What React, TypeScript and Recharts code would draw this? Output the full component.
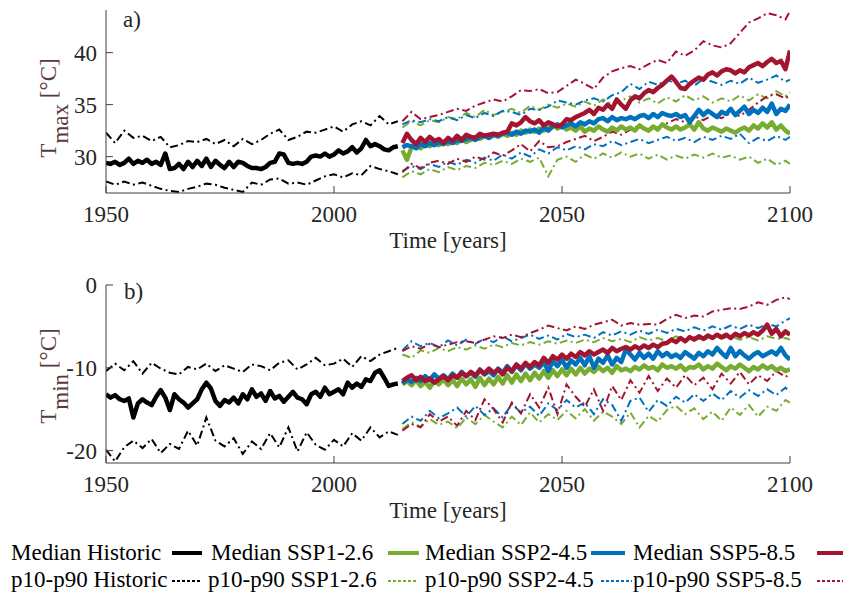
import React from 'react';
import { LineChart, Line, XAxis, YAxis } from 'recharts';

// ---------- x values ----------
const range = (start: number, end: number, step: number): number[] => {
  const out: number[] = [];
  for (let v = start; v <= end; v += step) out.push(v);
  return out;
};
const YEARS_HIST = range(1950, 2014, 1);
const YEARS_HIST_PCT = range(1950, 2014, 2);
const YEARS_SSP = range(2015, 2100, 1);
const YEARS_SSP_PCT = [...range(2015, 2099, 2), 2100];

const X_TICKS = [1950, 2000, 2050, 2100];
const TMAX_TICKS = [30, 35, 40];
const TMIN_TICKS = [-20, -10, 0];
const TMAX_DOMAIN: [number, number] = [26.5, 44.1];
const TMIN_DOMAIN: [number, number] = [-21.5, 0];

// ---------- panel a) Tmax ----------
const tmaxHistMedian = [
  29.4, 29.3, 29.5, 29.2, 29.4, 29.8, 29.3, 29.6, 29.4, 29.7,
  29.3, 29.5, 29.2, 30.3, 28.8, 28.9, 29.3, 28.8, 29.5, 29.0,
  29.6, 29.1, 29.8, 29.0, 29.6, 29.2, 28.9, 29.5, 29.0, 29.5,
  29.4, 29.1, 28.9, 28.9, 28.8, 29.0, 29.4, 29.5, 30.3, 30.2,
  29.4, 29.3, 29.4, 29.3, 29.5, 30.0, 30.1, 30.0, 30.3, 30.0,
  30.2, 30.6, 30.3, 30.5, 30.9, 30.4, 30.8, 31.6, 31.0, 31.2,
  31.0, 30.7, 30.6, 30.9, 31.0,
];
const tmaxHistP90 = [
  32.3, 31.3, 32.5, 31.8, 32.0, 31.5, 31.9, 30.9, 31.1, 31.5,
  31.4, 31.7, 31.2, 31.6, 31.0, 31.7, 31.2, 31.6, 32.2, 32.6,
  31.6, 31.9, 32.4, 32.3, 32.6, 32.9, 32.4, 33.1, 33.4, 33.0,
  33.9, 33.1, 33.4,
];
const tmaxHistP10 = [
  27.6, 27.3, 27.6, 27.3, 27.5, 27.2, 26.9, 26.7, 26.6, 26.9,
  27.1, 27.4, 27.3, 27.0, 26.8, 26.6, 27.5, 27.3, 27.8, 27.9,
  27.4, 27.5, 27.3, 27.7, 28.1, 28.3, 28.0, 28.4, 28.2, 29.1,
  28.8, 28.6, 28.3,
];
const tmaxSsp126Median = [
  30.6, 29.7, 30.9, 31.1, 30.8, 31.2, 31.0, 31.3, 31.1, 31.4,
  31.2, 31.5, 31.3, 31.7, 31.4, 31.6, 31.9, 31.7, 32.0, 31.8,
  32.1, 31.9, 32.2, 32.0, 32.3, 32.1, 32.5, 32.3, 32.6, 32.4,
  32.7, 32.5, 32.8, 33.1, 32.7, 33.0, 32.6, 32.8, 32.5, 32.9,
  32.4, 32.7, 32.5, 32.9, 32.6, 32.4, 32.8, 32.5, 32.9, 32.6,
  32.8, 32.5, 33.0, 32.7, 32.5, 32.9, 32.6, 33.1, 32.8, 32.6,
  32.9, 32.6, 32.8, 33.1, 32.6, 33.3, 32.7, 32.5, 32.8, 32.6,
  32.4, 32.7, 32.5, 32.3, 32.6, 32.8, 32.5, 33.0, 32.7, 33.2,
  32.8, 33.3, 32.6, 33.0, 32.5, 32.2,
];
const tmaxSsp245Median = [
  30.9, 31.1, 31.0, 30.8, 31.2, 31.0, 31.3, 31.1, 31.4, 31.2,
  31.5, 31.3, 31.6, 31.5, 31.7, 31.8, 31.6, 31.9, 32.0, 31.8,
  32.1, 32.0, 32.2, 32.3, 32.1, 32.4, 32.2, 32.5, 32.4, 32.6,
  32.3, 32.8, 32.5, 32.9, 33.1, 32.8, 33.0, 33.2, 32.9, 33.3,
  33.1, 33.4, 33.2, 33.6, 33.7, 33.4, 33.8, 33.5, 33.7, 33.6,
  33.8, 33.6, 33.9, 34.0, 33.7, 34.1, 33.8, 34.2, 34.0, 33.9,
  34.1, 33.8, 34.0, 33.3, 33.9, 34.5, 34.0, 34.4, 34.1, 33.8,
  34.3, 34.1, 34.6, 34.0, 34.4, 34.8, 34.1, 34.5, 34.2, 34.7,
  34.3, 35.1, 34.1, 34.6, 34.4, 35.0,
];
const tmaxSsp585Median = [
  31.3, 32.2, 31.6, 31.2, 31.8, 31.4, 31.9, 31.5, 31.7, 31.3,
  31.8, 31.5, 32.0, 31.6, 32.1, 31.9, 31.8, 32.2, 32.0, 32.1,
  32.2, 32.1, 32.3, 32.4, 33.2, 33.0, 33.3, 33.8, 33.4, 33.2,
  33.5, 33.0, 33.3, 33.1, 32.9, 33.1, 33.6, 33.5, 33.8, 34.0,
  34.2, 34.5, 34.1, 34.7, 34.5, 35.0, 34.6, 35.5, 35.0, 34.6,
  35.4, 35.8, 35.6, 36.1, 36.4, 36.2, 36.6, 36.9, 37.3, 37.7,
  37.2, 36.6, 36.5, 37.0, 37.3, 37.6, 37.4, 37.9, 38.1, 37.8,
  38.2, 38.4, 38.3, 38.0, 38.3, 38.1, 38.6, 38.8, 39.0, 38.7,
  39.1, 39.4, 39.0, 39.2, 38.4, 40.2,
];
const tmaxSsp126P90 = [
  32.8, 33.4, 33.0, 33.5, 33.3, 33.8, 33.6, 34.2, 33.8, 34.5,
  34.0, 34.3, 34.6, 34.2, 34.9, 34.5, 35.0, 34.7, 35.1, 34.8,
  35.3, 34.9, 35.5, 35.0, 35.4, 35.8, 35.2, 35.6, 35.1, 35.7,
  35.3, 35.9, 35.4, 35.8, 35.2, 35.6, 35.3, 35.9, 35.4, 36.0,
  35.6, 36.3, 35.8, 36.2,
];
const tmaxSsp245P90 = [
  33.1, 33.5, 33.3, 33.6, 33.4, 33.8, 33.5, 34.0, 33.7, 34.2,
  33.9, 34.4, 34.3, 34.0, 34.6, 34.5, 34.8, 35.4, 35.2, 35.0,
  35.4, 35.6, 35.3, 35.9, 36.2, 37.0, 36.5, 37.2, 36.9, 37.4,
  37.0, 37.3, 36.8, 37.5, 37.2, 36.9, 37.3, 37.0, 37.6, 37.1,
  37.4, 37.8, 37.2, 37.4,
];
const tmaxSsp585P90 = [
  33.4, 34.3, 33.6, 33.8, 34.0, 34.3, 34.6, 34.4, 34.9, 35.2,
  35.5, 35.3, 35.8, 36.4, 36.3, 36.5, 36.1, 36.2, 36.8, 37.4,
  37.0, 36.5, 37.6, 38.2, 38.5, 38.7, 38.4, 38.9, 39.3, 39.0,
  40.1, 39.7, 40.2, 41.1, 40.7, 40.5, 40.9, 41.9, 42.9, 43.3,
  43.8, 43.6, 43.2, 44.0,
];
const tmaxSsp126P10 = [
  28.0, 28.6, 28.3, 28.8, 28.5, 29.0, 28.7, 29.1, 28.9, 29.4,
  29.2, 29.6, 29.3, 29.8, 29.5, 29.9, 28.1, 29.7, 30.0, 29.5,
  30.2, 29.8, 30.3, 29.9, 30.4, 30.0, 30.3, 29.8, 30.2, 29.7,
  30.1, 29.8, 30.2, 29.9, 30.3, 29.9, 30.1, 29.7, 30.0, 29.4,
  29.8, 29.2, 29.6, 29.3,
];
const tmaxSsp245P10 = [
  28.6, 29.1, 28.8, 29.3, 29.0, 29.5, 29.2, 29.7, 29.4, 29.9,
  29.6, 30.2, 29.8, 30.4, 30.0, 30.7, 30.3, 30.9, 30.6, 31.0,
  30.7, 31.2, 31.0, 31.5, 31.1, 31.4, 31.7, 31.3, 31.6, 31.9,
  31.5, 31.8, 31.4, 31.9, 31.6, 32.0, 31.7, 32.2, 31.3, 31.8,
  31.5, 32.0, 31.6, 31.9,
];
const tmaxSsp585P10 = [
  28.5, 29.3, 28.9, 29.4, 29.6, 29.3, 29.8, 29.5, 30.0, 29.7,
  30.4, 30.1, 30.6, 31.2, 30.5, 31.5, 30.9, 31.0, 31.4, 31.7,
  32.0, 31.5, 31.9, 32.4, 32.1, 32.6, 33.0, 32.5, 32.8, 33.2,
  33.6, 33.3, 33.9, 33.5, 34.0, 33.7, 34.2, 33.9, 34.5, 35.2,
  35.8, 36.0, 35.6, 35.9,
];

// ---------- panel b) Tmin ----------
const tminHistMedian = [
  -13.2, -13.6, -13.3, -13.8, -14.0, -13.7, -16.0, -14.3, -13.8, -14.2,
  -14.5, -13.5, -12.7, -13.6, -15.1, -13.2, -13.8, -14.2, -14.8, -14.3,
  -13.8, -12.6, -11.8, -12.5, -14.0, -14.6, -13.9, -14.2, -13.6, -14.3,
  -13.2, -13.8, -12.6, -13.5, -13.1, -14.0, -12.8, -13.7, -13.4, -14.1,
  -13.5, -12.9, -13.6, -13.8, -14.4, -13.2, -12.9, -13.5, -12.4, -13.2,
  -12.9, -12.6, -13.2, -11.8, -12.4, -11.9, -12.3, -11.4, -11.6, -10.6,
  -10.3, -11.2, -12.2, -12.0, -11.9,
];
const tminHistP90 = [
  -10.4, -9.5, -10.3, -9.2, -10.7, -9.4, -10.1, -10.6, -10.8, -9.9,
  -10.2, -9.5, -10.4, -9.7, -10.1, -10.5, -9.6, -9.8, -10.3, -9.4,
  -9.1, -10.2, -9.6, -8.8, -9.7, -9.5, -8.9, -9.9, -8.6, -9.2,
  -8.4, -8.0, -7.6,
];
const tminHistP10 = [
  -19.9, -21.3, -19.6, -18.8, -19.7, -18.6, -20.3, -19.2, -19.8, -17.6,
  -19.4, -16.0, -18.8, -19.5, -18.5, -20.4, -18.9, -19.8, -17.9, -19.6,
  -17.2, -20.1, -17.8, -19.3, -19.9, -18.7, -19.5, -17.9, -18.8, -17.2,
  -18.4, -17.7, -18.1,
];
const tminSsp126Median = [
  -12.0, -11.6, -12.1, -11.5, -12.2, -11.7, -12.4, -11.6, -12.0, -11.4,
  -12.1, -11.5, -12.2, -11.3, -12.0, -11.4, -12.3, -11.2, -12.1, -11.3,
  -12.0, -11.1, -11.9, -10.9, -11.8, -10.8, -11.6, -10.7, -11.5, -10.6,
  -11.3, -10.4, -11.2, -10.3, -11.0, -10.2, -10.9, -10.1, -10.8, -10.0,
  -10.7, -10.1, -10.5, -9.9, -10.4, -10.0, -10.6, -9.8, -10.3, -10.1,
  -10.4, -9.9, -10.2, -9.7, -10.1, -9.9, -10.3, -9.6, -10.0, -9.8,
  -10.1, -9.7, -10.3, -9.9, -10.0, -9.6, -10.2, -9.8, -10.1, -9.5,
  -9.9, -10.3, -9.8, -10.1, -9.6, -10.0, -10.4, -9.9, -10.2, -9.7,
  -10.1, -9.8, -10.3, -10.0, -10.4, -10.2,
];
const tminSsp245Median = [
  -11.9, -11.4, -11.7, -11.2, -11.6, -11.0, -11.5, -10.8, -11.3, -10.9,
  -11.4, -10.7, -11.2, -10.5, -11.0, -10.6, -11.1, -10.2, -10.8, -10.4,
  -10.9, -10.1, -10.6, -9.8, -10.5, -9.7, -10.3, -9.5, -10.1, -9.6,
  -10.0, -9.3, -10.4, -9.2, -9.8, -9.0, -10.0, -9.1, -9.6, -8.8,
  -9.7, -8.6, -10.0, -8.9, -9.4, -8.5, -9.6, -8.8, -9.3, -7.8,
  -8.4, -9.0, -8.2, -8.8, -8.3, -8.9, -8.0, -8.6, -8.2, -8.7,
  -8.4, -8.8, -8.1, -8.5, -8.9, -8.2, -8.6, -8.0, -8.4, -7.6,
  -8.2, -8.7, -7.6, -8.6, -8.0, -8.5, -8.9, -8.4, -8.1, -8.6,
  -8.3, -8.0, -8.4, -7.6, -8.5, -9.0,
];
const tminSsp585Median = [
  -11.6, -11.2, -10.9, -11.5, -11.1, -11.6, -11.3, -11.8, -11.4, -11.0,
  -11.5, -10.9, -11.2, -10.6, -11.0, -10.5, -10.9, -10.3, -10.7, -10.1,
  -10.6, -10.2, -10.8, -10.0, -10.4, -9.6, -10.1, -9.4, -9.9, -9.3,
  -9.7, -8.8, -9.4, -8.6, -9.0, -8.4, -8.9, -8.3, -8.7, -8.1,
  -8.5, -8.0, -8.4, -8.1, -7.8, -8.2, -7.6, -8.0, -7.7, -7.5,
  -7.8, -7.4, -7.7, -7.3, -7.6, -7.2, -7.5, -7.1, -7.0, -6.6,
  -6.9, -6.4, -6.8, -6.3, -6.6, -6.2, -6.5, -6.1, -6.4, -6.0,
  -6.3, -6.0, -6.4, -5.9, -6.2, -5.8, -6.1, -5.7, -6.0, -5.5,
  -4.8, -5.9, -5.3, -6.2, -5.6, -6.0,
];
const tminSsp126P90 = [
  -8.4, -8.8, -7.9, -8.2, -7.6, -8.0, -7.5, -7.8, -7.3, -7.7,
  -7.2, -7.5, -7.0, -7.3, -6.9, -7.2, -6.8, -7.1, -6.7, -7.0,
  -6.6, -6.9, -6.4, -6.8, -6.5, -6.9, -6.3, -6.7, -6.4, -6.8,
  -6.2, -6.6, -6.3, -6.7, -6.1, -6.5, -6.2, -6.6, -6.3, -6.7,
  -6.2, -6.5, -6.4, -6.6,
];
const tminSsp245P90 = [
  -7.9, -6.8, -7.4, -7.0, -7.5, -6.7, -7.3, -6.6, -7.1, -6.5,
  -6.9, -6.2, -6.8, -6.4, -6.0, -6.5, -6.1, -6.6, -5.9, -6.3,
  -6.0, -6.4, -5.7, -6.1, -5.6, -6.0, -5.5, -5.9, -5.4, -5.8,
  -5.3, -5.6, -5.1, -5.5, -5.0, -5.4, -4.9, -5.3, -4.8, -5.2,
  -4.7, -5.0, -4.3, -4.0,
];
const tminSsp585P90 = [
  -8.0, -7.4, -7.7, -7.1, -7.5, -7.2, -6.9, -6.8, -7.0, -6.6,
  -6.2, -6.4, -6.0, -6.3, -5.8, -5.4, -4.9, -5.2, -5.5, -5.0,
  -5.3, -4.8, -4.5, -4.2, -4.9, -4.6, -4.8, -4.7, -4.8, -4.1,
  -3.6, -4.0, -3.7, -3.8, -3.2, -3.0, -2.8, -2.9, -2.6, -2.1,
  -2.4, -1.8, -1.5, -1.7,
];
const tminSsp126P10 = [
  -17.4, -16.6, -17.1, -16.2, -16.9, -16.5, -17.3, -16.0, -16.8, -15.7,
  -16.5, -17.2, -15.9, -16.9, -15.4, -16.6, -15.6, -16.3, -15.2, -16.1,
  -15.0, -16.4, -15.3, -15.9, -16.8, -15.4, -17.2, -15.8, -16.5, -15.1,
  -14.6, -15.6, -14.9, -16.2, -15.3, -16.4, -14.8, -15.7, -14.5, -15.9,
  -14.7, -15.2, -13.9, -14.2,
];
const tminSsp245P10 = [
  -16.8, -15.9, -16.4, -15.2, -16.1, -15.5, -14.8, -15.9, -14.6, -15.7,
  -14.9, -16.0, -14.4, -15.4, -14.7, -15.8, -14.3, -15.1, -13.9, -14.8,
  -14.2, -15.6, -13.8, -14.5, -16.4, -14.0, -13.6, -15.3, -13.9, -14.6,
  -13.5, -14.2, -13.2, -14.0, -13.1, -13.9, -12.8, -13.6, -12.7, -13.4,
  -12.6, -13.3, -12.4, -12.9,
];
const tminSsp585P10 = [
  -17.6, -16.8, -17.2, -15.6, -16.5, -15.9, -17.0, -15.2, -16.3, -13.8,
  -15.0, -16.6, -14.2, -15.5, -13.2, -14.8, -12.4, -15.6, -12.0, -13.5,
  -14.7, -12.6, -15.2, -12.2, -13.9, -11.5, -13.0, -11.0, -12.8, -11.3,
  -12.4, -10.9, -12.1, -11.2, -12.6, -10.7, -11.9, -10.5, -12.0, -10.9,
  -11.6, -10.4, -11.1, -10.8,
];

// ---------- styles ----------
const BLACK = '#000000';
const GREEN = '#77AC30';
const BLUE = '#0072BD';
const RED = '#A2142F';
const AXIS = '#404040';
const TICK_TEXT = '#262626';
const LABEL_TEXT = '#5a3b3b';
const SERIF = '"Liberation Serif", "Times New Roman", serif';
const FS = 23;
const DASHDOT = '8 3.5 2 3.5';
const MEDIAN_W = 4.5;
const PCT_W = 2;

const toSeries = (years: number[], values: number[]) =>
  years.map((year, i) => ({ year, v: values[i] }));

const X_TICK_MARGIN = 13;
const Y_TICK_MARGIN = 9;

const XTick = (props: any) => {
  const { x, y, payload } = props;
  const axisY = y - X_TICK_MARGIN;
  return (
    <g>
      <line x1={x} x2={x} y1={axisY} y2={axisY - 7} stroke={AXIS} strokeWidth={1} />
      <text x={x} y={y} dy="0.71em" textAnchor="middle" fill={TICK_TEXT} fontSize={FS} fontFamily={SERIF}>
        {payload.value}
      </text>
    </g>
  );
};

const YTick = (props: any) => {
  const { x, y, payload } = props;
  const axisX = x + Y_TICK_MARGIN;
  return (
    <g>
      <line x1={axisX} x2={axisX + 7} y1={y} y2={y} stroke={AXIS} strokeWidth={1} />
      <text x={x} y={y} dy="0.355em" textAnchor="end" fill={TICK_TEXT} fontSize={FS} fontFamily={SERIF}>
        {payload.value}
      </text>
    </g>
  );
};

type SeriesSet = {
  histMedian: number[]; histP90: number[]; histP10: number[];
  m126: number[]; m245: number[]; m585: number[];
  u126: number[]; u245: number[]; u585: number[];
  l126: number[]; l245: number[]; l585: number[];
};

function pctLine(key: string, years: number[], values: number[], color: string) {
  return (
    <Line key={key} data={toSeries(years, values)} dataKey="v" type="linear" stroke={color}
      strokeWidth={PCT_W} strokeDasharray={DASHDOT} dot={false} activeDot={false}
      isAnimationActive={false} />
  );
}
function medLine(key: string, years: number[], values: number[], color: string) {
  return (
    <Line key={key} data={toSeries(years, values)} dataKey="v" type="linear" stroke={color}
      strokeWidth={MEDIAN_W} strokeLinejoin="round" dot={false} activeDot={false}
      isAnimationActive={false} />
  );
}

function Panel({ top, marginTop, domain, yTicks, s }: {
  top: number; marginTop: number; domain: [number, number]; yTicks: number[]; s: SeriesSet;
}) {
  return (
    <div style={{ position: 'absolute', left: 0, top }}>
      <LineChart width={843} height={260} margin={{ top: marginTop, right: 53, bottom: 0, left: 0 }}>
        <XAxis dataKey="year" type="number" domain={[1950, 2100]} ticks={X_TICKS} interval={0}
          allowDataOverflow height={67} tickSize={0} tickMargin={X_TICK_MARGIN} tickLine={false}
          axisLine={{ stroke: AXIS, strokeWidth: 1 }} tick={(p: any) => <XTick {...p} />} />
        <YAxis type="number" domain={domain} ticks={yTicks} interval={0} allowDataOverflow
          width={106} tickSize={0} tickMargin={Y_TICK_MARGIN} tickLine={false}
          axisLine={{ stroke: AXIS, strokeWidth: 1 }} tick={(p: any) => <YTick {...p} />} />
        {pctLine('hp90', YEARS_HIST_PCT, s.histP90, BLACK)}
        {pctLine('hp10', YEARS_HIST_PCT, s.histP10, BLACK)}
        {pctLine('u126', YEARS_SSP_PCT, s.u126, GREEN)}
        {pctLine('l126', YEARS_SSP_PCT, s.l126, GREEN)}
        {pctLine('u245', YEARS_SSP_PCT, s.u245, BLUE)}
        {pctLine('l245', YEARS_SSP_PCT, s.l245, BLUE)}
        {pctLine('u585', YEARS_SSP_PCT, s.u585, RED)}
        {pctLine('l585', YEARS_SSP_PCT, s.l585, RED)}
        {medLine('hm', YEARS_HIST, s.histMedian, BLACK)}
        {medLine('m126', YEARS_SSP, s.m126, GREEN)}
        {medLine('m245', YEARS_SSP, s.m245, BLUE)}
        {medLine('m585', YEARS_SSP, s.m585, RED)}
      </LineChart>
    </div>
  );
}

const LEGEND_ROWS = [
  {
    y: 560, lineY: 553, dash: undefined as string | undefined, width: 4,
    items: [
      { label: 'Median Historic', x: 11, x1: 172, x2: 202, color: BLACK },
      { label: 'Median SSP1-2.6', x: 211, x1: 388, x2: 419, color: GREEN },
      { label: 'Median SSP2-4.5', x: 425, x1: 591, x2: 625, color: BLUE },
      { label: 'Median SSP5-8.5', x: 633, x1: 817, x2: 845, color: RED },
    ],
  },
  {
    y: 587, lineY: 581, dash: '3 2' as string | undefined, width: 2,
    items: [
      { label: 'p10-p90 Historic', x: 11, x1: 172, x2: 202, color: BLACK },
      { label: 'p10-p90 SSP1-2.6', x: 208, x1: 388, x2: 418, color: GREEN },
      { label: 'p10-p90 SSP2-4.5', x: 425, x1: 601, x2: 632, color: BLUE },
      { label: 'p10-p90 SSP5-8.5', x: 633, x1: 817, x2: 845, color: RED },
    ],
  },
];

function YLabel({ cx, cy, sub }: { cx: number; cy: number; sub: string }) {
  return (
    <text transform={`rotate(-90 ${cx} ${cy})`} x={cx} y={cy} textAnchor="middle"
      fontSize={FS} fill={LABEL_TEXT} fontFamily={SERIF}>
      T<tspan dy={12}>{sub}</tspan><tspan dy={-12}> [°C]</tspan>
    </text>
  );
}

export default function App() {
  const a: SeriesSet = {
    histMedian: tmaxHistMedian, histP90: tmaxHistP90, histP10: tmaxHistP10,
    m126: tmaxSsp126Median, m245: tmaxSsp245Median, m585: tmaxSsp585Median,
    u126: tmaxSsp126P90, u245: tmaxSsp245P90, u585: tmaxSsp585P90,
    l126: tmaxSsp126P10, l245: tmaxSsp245P10, l585: tmaxSsp585P10,
  };
  const b: SeriesSet = {
    histMedian: tminHistMedian, histP90: tminHistP90, histP10: tminHistP10,
    m126: tminSsp126Median, m245: tminSsp245Median, m585: tminSsp585Median,
    u126: tminSsp126P90, u245: tminSsp245P90, u585: tminSsp585P90,
    l126: tminSsp126P10, l245: tminSsp245P10, l585: tminSsp585P10,
  };
  return (
    <div style={{ position: 'absolute', left: 0, top: 0, width: 843, height: 599, background: '#fff', overflow: 'hidden' }}>
      <Panel top={0} marginTop={10} domain={TMAX_DOMAIN} yTicks={TMAX_TICKS} s={a} />
      <Panel top={270} marginTop={15} domain={TMIN_DOMAIN} yTicks={TMIN_TICKS} s={b} />
      <svg width={843} height={599} style={{ position: 'absolute', left: 0, top: 0, pointerEvents: 'none' }}>
        <text x={123} y={27} fontSize={FS} fill={TICK_TEXT} fontFamily={SERIF}>a)</text>
        <text x={124} y={299} fontSize={FS} fill={TICK_TEXT} fontFamily={SERIF}>b)</text>
        <YLabel cx={56} cy={108} sub="max" />
        <YLabel cx={56} cy={376} sub="min" />
        <text x={448} y={248} textAnchor="middle" fontSize={FS} fill={TICK_TEXT} fontFamily={SERIF}>Time [years]</text>
        <text x={448} y={518} textAnchor="middle" fontSize={FS} fill={TICK_TEXT} fontFamily={SERIF}>Time [years]</text>
        {LEGEND_ROWS.map((row, r) => (
          <g key={r}>
            {row.items.map((it) => (
              <g key={it.label}>
                <text x={it.x} y={row.y} fontSize={FS} fill={BLACK} fontFamily={SERIF}>{it.label}</text>
                <line x1={it.x1} x2={it.x2} y1={row.lineY} y2={row.lineY} stroke={it.color}
                  strokeWidth={row.width} strokeDasharray={row.dash} />
              </g>
            ))}
          </g>
        ))}
      </svg>
    </div>
  );
}
